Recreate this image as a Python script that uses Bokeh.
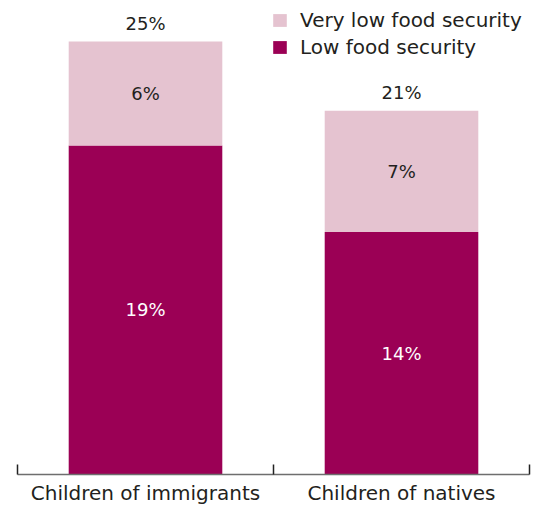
from bokeh.plotting import figure
from bokeh.models import (ColumnDataSource, Range1d, FixedTicker, Legend, LegendItem)
from bokeh.core.properties import value
from bokeh.embed import file_html
from bokeh.resources import INLINE

categories = ["Children of immigrants", "Children of natives"]
low_food_security = [19, 14]
very_low_food_security = [6, 7]
totals = [25, 21]

DARK = "#9b0055"
PINK = "#e5c3d0"
TEXT = "#231f20"
FONT = "DejaVu Sans"

xpos = [i + 0.5 for i in range(len(categories))]

src = ColumnDataSource(dict(
    x=xpos,
    low=low_food_security,
    very_low=very_low_food_security,
    total=totals,
    low_mid=[l / 2 for l in low_food_security],
    vl_mid=[l + v / 2 for l, v in zip(low_food_security, very_low_food_security)],
    low_txt=[f"{v}%" for v in low_food_security],
    vl_txt=[f"{v}%" for v in very_low_food_security],
    tot_txt=[f"{v}%" for v in totals],
))

p = figure(width=533, height=508, output_backend="svg", toolbar_location=None,
           x_range=Range1d(0, len(categories)), y_range=Range1d(0, 27.37),
           min_border_left=17, min_border_right=4, min_border_top=0,
           min_border_bottom=34)
p.outline_line_color = None
p.grid.visible = False
p.yaxis.visible = False
p.background_fill_color = "white"
p.border_fill_color = "white"

r_low, r_vl = p.vbar_stack(["low", "very_low"], x="x", width=0.6, source=src,
                           color=[DARK, PINK], line_color=None)

p.text(x="x", y="low_mid", text="low_txt", source=src, text_align="center",
       text_baseline="middle", text_color="white", text_font=value(FONT),
       text_font_size="18px")
p.text(x="x", y="vl_mid", text="vl_txt", source=src, text_align="center",
       text_baseline="middle", text_color=TEXT, text_font=value(FONT),
       text_font_size="18px")
p.text(x="x", y="total", text="tot_txt", source=src, text_align="center",
       text_baseline="alphabetic", y_offset=-18, text_color=TEXT,
       text_font=value(FONT), text_font_size="18px")

ax = p.xaxis[0]
ax.ticker = FixedTicker(ticks=xpos, minor_ticks=list(range(len(categories) + 1)))
ax.major_label_overrides = {x: c for x, c in zip(xpos, categories)}
ax.major_tick_in = 0
ax.major_tick_out = 0
ax.minor_tick_in = 10
ax.minor_tick_out = 0
ax.minor_tick_line_color = "#222222"
ax.minor_tick_line_width = 1.5
ax.axis_line_color = "#6e6e6e"
ax.axis_line_width = 1.5
ax.major_label_text_font = FONT
ax.major_label_text_font_size = "20px"
ax.major_label_text_color = TEXT
ax.major_label_standoff = 6

legend = Legend(items=[LegendItem(label="Very low food security", renderers=[r_vl]),
                       LegendItem(label="Low food security", renderers=[r_low])],
                location=(254, 415), padding=0, margin=0, spacing=3,
                glyph_width=17, glyph_height=16, label_standoff=12,
                label_text_font=FONT, label_text_font_size="20px",
                label_text_color=TEXT, border_line_color=None,
                background_fill_alpha=0)
p.add_layout(legend)

open("out.html", "w").write(file_html(p, INLINE))
